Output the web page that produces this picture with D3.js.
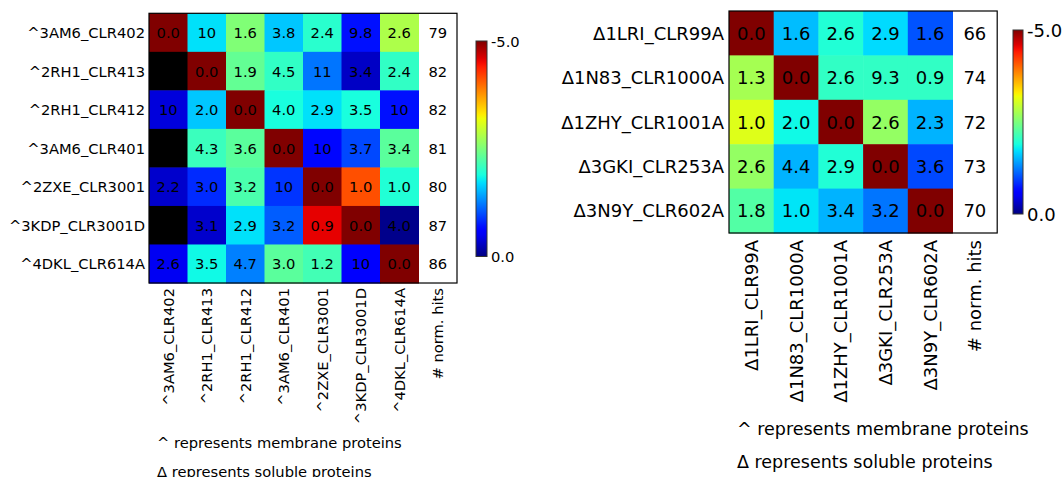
<!DOCTYPE html>
<html><head><meta charset="utf-8">
<script src="https://cdn.jsdelivr.net/npm/d3@7"></script>
<style>body{margin:0;background:#fff;} svg{display:block;font-family:"DejaVu Sans",sans-serif;}</style>
</head><body><svg id="c" width="1063" height="477"></svg>
<script>
// ---------- DATA ----------
const leftNames = ["^3AM6_CLR402","^2RH1_CLR413","^2RH1_CLR412","^3AM6_CLR401","^2ZXE_CLR3001","^3KDP_CLR3001D","^4DKL_CLR614A"];
const leftText = [
 ["0.0","10","1.6","3.8","2.4","9.8","2.6"],
 ["","0.0","1.9","4.5","11","3.4","2.4"],
 ["10","2.0","0.0","4.0","2.9","3.5","10"],
 ["","4.3","3.6","0.0","10","3.7","3.4"],
 ["2.2","3.0","3.2","10","0.0","1.0","1.0"],
 ["","3.1","2.9","3.2","0.9","0.0","4.0"],
 ["2.6","3.5","4.7","3.0","1.2","10","0.0"]];
// colour score (0 .. -5); null = missing (black)
const leftScore = [
 [-5,-1.73,-2.53,-1.6,-2.0,-0.7,-2.8],
 [null,-5,-2.35,-2.05,-1.2,-0.3,-2.05],
 [-0.4,-1.6,-5,-1.9,-1.73,-1.9,-0.7],
 [null,-2.1,-2.3,-5,-0.65,-0.98,-2.3],
 [-0.33,-0.83,-2.2,-0.88,-5,-4.13,-1.95],
 [null,-0.33,-1.73,-1.08,-4.56,-5,-0.05],
 [-0.5,-1.85,-1.25,-2.3,-2.15,-0.55,-5]];
const leftHits = [79,82,82,81,80,87,86];

const rightNames = ["\u03941LRI_CLR99A","\u03941N83_CLR1000A","\u03941ZHY_CLR1001A","\u03943GKI_CLR253A","\u03943N9Y_CLR602A"];
const rightText = [
 ["0.0","1.6","2.6","2.9","1.6"],
 ["1.3","0.0","2.6","9.3","0.9"],
 ["1.0","2.0","0.0","2.6","2.3"],
 ["2.6","4.4","2.9","0.0","3.6"],
 ["1.8","1.0","3.4","3.2","0.0"]];
const rightScore = [
 [-5,-1.55,-1.95,-1.7,-1.03],
 [-2.75,-5,-2.05,-2.05,-2.05],
 [-3.1,-1.85,-5,-2.65,-1.5],
 [-2.65,-1.5,-1.95,-5,-0.98],
 [-2.25,-1.75,-1.5,-1.2,-5]];
const rightHits = [66,74,72,73,70];

const hitsLabel = "# norm. hits";
const colorTicks = ["-5.0","0.0"];
const notes = ["^ represents membrane proteins","\u0394 represents soluble proteins"];

// ---------- COLOUR (matplotlib jet) ----------
function seg(pts, t){
  for(let i=1;i<pts.length;i++){
    if(t<=pts[i][0]){const a=pts[i-1],b=pts[i];return a[1]+(b[1]-a[1])*(t-a[0])/(b[0]-a[0]);}
  }
  return pts[pts.length-1][1];
}
const R=[[0,0],[0.35,0],[0.66,1],[0.89,1],[1,0.5]];
const G=[[0,0],[0.125,0],[0.375,1],[0.64,1],[0.91,0],[1,0]];
const B=[[0,0.5],[0.11,1],[0.34,1],[0.65,0],[1,0]];
function jet(t){t=Math.max(0,Math.min(1,t));return d3.rgb(255*seg(R,t),255*seg(G,t),255*seg(B,t)).toString();}
const tScale = d3.scaleLinear().domain([0,-5]).range([0,1]).clamp(true);
const colorOf = v => v==null ? "#000" : jet(tScale(v));

const svg = d3.select("#c");
const defs = svg.append("defs");
const grad = defs.append("linearGradient").attr("id","jetg").attr("x1",0).attr("y1",1).attr("x2",0).attr("y2",0);
d3.range(0,1.0001,0.02).forEach(t=>grad.append("stop").attr("offset",t).attr("stop-color",jet(t)));

function heatmap(o){
  const n=o.names.length;
  const cols=o.names.concat([hitsLabel]);
  const x=d3.scaleBand().domain(d3.range(n+1)).range([o.x0,o.x0+o.cw*(n+1)]);
  const y=d3.scaleBand().domain(d3.range(n)).range([o.y0,o.y0+o.ch*n]);
  const g=svg.append("g");
  const cells=[];
  o.score.forEach((row,i)=>row.forEach((v,j)=>cells.push({i,j,v,t:o.text[i][j]})));
  g.selectAll("rect.c").data(cells).join("rect").attr("x",d=>x(d.j)).attr("y",d=>y(d.i))
   .attr("width",x.bandwidth()+0.5).attr("height",y.bandwidth()+0.5).attr("fill",d=>colorOf(d.v));
  g.selectAll("text.c").data(cells).join("text").attr("x",d=>x(d.j)+x.bandwidth()/2).attr("y",d=>y(d.i)+y.bandwidth()/2)
   .attr("text-anchor","middle").attr("dominant-baseline","central").attr("font-size",o.fs).attr("fill","#000").text(d=>d.t);
  g.selectAll("text.h").data(o.hits).join("text").attr("x",x(n)+x.bandwidth()/2).attr("y",(d,i)=>y(i)+y.bandwidth()/2)
   .attr("text-anchor","middle").attr("dominant-baseline","central").attr("font-size",o.fs).text(d=>d);
  g.append("rect").attr("x",o.x0).attr("y",o.y0).attr("width",o.cw*(n+1)).attr("height",o.ch*n)
   .attr("fill","none").attr("stroke","#000").attr("stroke-width",1.2);
  // row labels
  g.selectAll("text.r").data(o.names).join("text").attr("x",o.x0-o.gap).attr("y",(d,i)=>y(i)+y.bandwidth()/2)
   .attr("text-anchor","end").attr("dominant-baseline","central").attr("font-size",o.fs).text(d=>d);
  // column labels
  const yb=o.y0+o.ch*n+o.cgap;
  g.selectAll("text.col").data(cols).join("text")
   .attr("transform",(d,j)=>`translate(${x(j)+x.bandwidth()/2},${yb}) rotate(-90)`)
   .attr("text-anchor","end").attr("dominant-baseline","central").attr("font-size",o.fs).text(d=>d);
  // colorbar
  const cb=d3.scaleLinear().domain([-5,0]).range([o.cbTop,o.cbBot]);
  g.append("rect").attr("x",o.cbX).attr("y",cb(-5)).attr("width",o.cbW).attr("height",cb(0)-cb(-5))
   .attr("fill","url(#jetg)").attr("stroke","#333").attr("stroke-width",1);
  g.selectAll("text.cb").data(colorTicks).join("text").attr("x",o.cbX+o.cbW+4).attr("y",d=>cb(+d))
   .attr("dominant-baseline","central").attr("font-size",o.fs).text(d=>d);
  // notes
  g.selectAll("text.n").data(notes).join("text").attr("x",o.noteX).attr("y",(d,i)=>o.noteY[i])
   .attr("dominant-baseline","central").attr("font-size",o.nfs).text(d=>d);
}

heatmap({names:leftNames,text:leftText,score:leftScore,hits:leftHits,x0:149,y0:13.3,cw:38.5,ch:38.53,fs:14.7,nfs:14.7,gap:4,cgap:5,
  cbX:476,cbW:11,cbTop:41,cbBot:256.5,noteX:157,noteY:[442,471]});
heatmap({names:rightNames,text:rightText,score:rightScore,hits:rightHits,x0:729,y0:11,cw:44.7,ch:44.4,fs:18,nfs:17.5,gap:5,cgap:7,
  cbX:1013,cbW:10,cbTop:30,cbBot:214,noteX:737,noteY:[429,462]});
</script></body></html>
